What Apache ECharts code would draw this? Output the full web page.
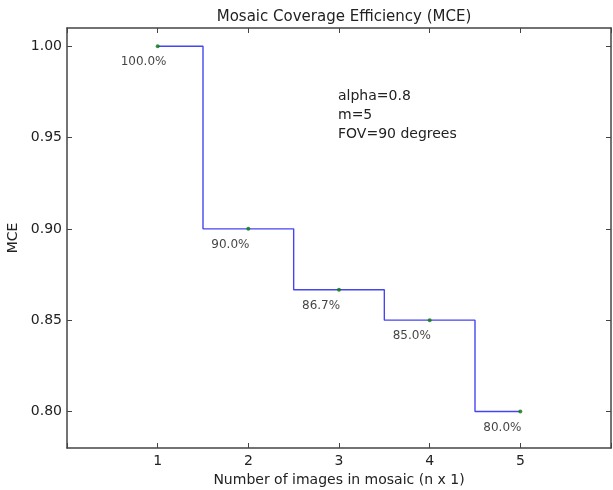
<!DOCTYPE html>
<html>
<head>
<meta charset="utf-8">
<script src="https://cdn.jsdelivr.net/npm/echarts@6/dist/echarts.min.js"></script>
<style>
html,body{margin:0;padding:0;background:#fff;}
#c{width:613px;height:490px;}
</style>
</head>
<body>
<div id="c"></div>
<script>
const categories = [1, 2, 3, 4, 5];
const mceValues = [1.0, 0.9, 0.8667, 0.85, 0.8];
const pointLabels = ['100.0%', '90.0%', '86.7%', '85.0%', '80.0%'];
const yTicks = [0.80, 0.85, 0.90, 0.95, 1.00];
const xTicks = [1, 2, 3, 4, 5];
const annotation = ['alpha=0.8', 'm=5', 'FOV=90 degrees'];

const FONT = 'DejaVu Sans';
const TXT = '#222';
const chart = echarts.init(document.getElementById('c'), null, {renderer: 'canvas'});

const xAxisBase = {
  type: 'value', min: 0, max: 6, interval: 1,
  axisLine: {show: true, onZero: false, lineStyle: {color: '#444', width: 1.5}},
  axisTick: {show: true, inside: true, length: 5, lineStyle: {color: '#444'}},
  splitLine: {show: false}
};
const yAxisBase = {
  type: 'value', min: 0.78, max: 1.01,
  axisLine: {show: true, onZero: false, lineStyle: {color: '#444', width: 1.5}},
  axisTick: {show: true, inside: true, length: 5, customValues: yTicks, lineStyle: {color: '#444'}},
  splitLine: {show: false}
};

chart.setOption({
  animation: false,
  backgroundColor: '#fff',
  title: {
    text: 'Mosaic Coverage Efficiency (MCE)',
    left: 339, top: 5, textAlign: 'center',
    textStyle: {fontFamily: FONT, fontSize: 15, fontWeight: 'normal', color: TXT}
  },
  grid: {left: 67, right: 2, top: 28, bottom: 42, containLabel: false, outerBoundsMode: 'none'},
  xAxis: [
    Object.assign({}, xAxisBase, {
      position: 'bottom',
      name: 'Number of images in mosaic (n x 1)',
      nameLocation: 'middle', nameGap: 24,
      nameTextStyle: {fontFamily: FONT, fontSize: 14, color: TXT},
      axisLabel: {
        show: true, margin: 6, fontFamily: FONT, fontSize: 14, color: TXT,
        formatter: v => (xTicks.indexOf(v) >= 0 ? String(v) : '')
      }
    }),
    Object.assign({}, xAxisBase, {position: 'top', axisLabel: {show: false}})
  ],
  yAxis: [
    Object.assign({}, yAxisBase, {
      position: 'left',
      name: 'MCE', nameLocation: 'middle', nameGap: 44, nameRotate: 90,
      nameTextStyle: {fontFamily: FONT, fontSize: 14, color: TXT},
      axisLabel: {
        show: true, margin: 5, fontFamily: FONT, fontSize: 14, color: TXT,
        customValues: yTicks,
        formatter: v => v.toFixed(2)
      }
    }),
    Object.assign({}, yAxisBase, {position: 'right', axisLabel: {show: false}})
  ],
  series: [
    {
      type: 'line',
      step: 'middle',
      data: categories.map((c, i) => [c, mceValues[i]]),
      showSymbol: false,
      lineStyle: {color: '#4545f0', width: 1.4},
      z: 2
    },
    {
      type: 'scatter',
      data: categories.map((c, i) => [c, mceValues[i]]),
      symbol: 'circle', symbolSize: 4,
      itemStyle: {color: '#0a7a0a'},
      label: {
        show: true, position: 'inside', align: 'left', verticalAlign: 'middle',
        offset: [-37, 16],
        fontFamily: FONT, fontSize: 12, color: '#111',
        formatter: p => pointLabels[p.dataIndex]
      },
      z: 3
    }
  ],
  graphic: [{
    type: 'text', left: 338, top: 87,
    style: {
      text: annotation.join('\n'),
      font: '14px "DejaVu Sans"', fill: TXT, lineHeight: 19
    }
  }]
});
</script>
</body>
</html>
